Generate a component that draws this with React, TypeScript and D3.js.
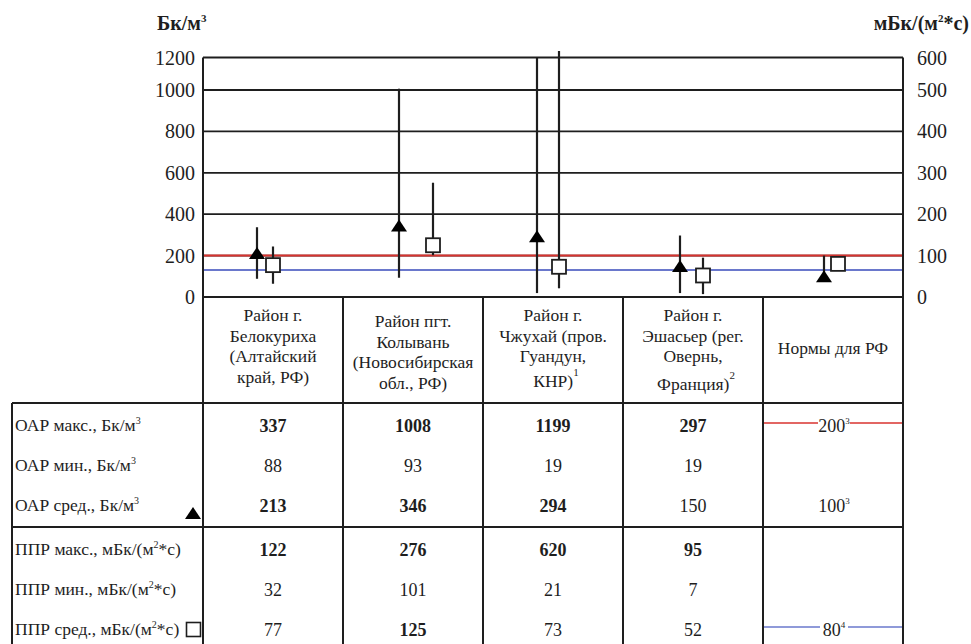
import React from "react";
import * as d3 from "d3";

const W = 971;
const H = 644;

// ---------- data ----------
const categoryKeys = ["Белокуриха", "Колывань", "Чжухай", "Эшасьер", "Нормы"];
const categoryHeaders = [
  ["Район г.", "Белокуриха", "(Алтайский", "край, РФ)"],
  ["Район пгт.", "Колывань", "(Новосибирская", "обл., РФ)"],
  ["Район г.", "Чжухай (пров.", "Гуандун,", "КНР)"],
  ["Район г.", "Эшасьер (рег.", "Овернь,", "Франция)"],
  ["Нормы для РФ"],
];
const headerFootnotes = ["", "", "1", "2", ""];

const oarMax: (number | null)[] = [337, 1008, 1199, 297, 200];
const oarMin: (number | null)[] = [88, 93, 19, 19, null];
const oarAvg: (number | null)[] = [213, 346, 294, 150, 100];
const pprMax: (number | null)[] = [122, 276, 620, 95, null];
const pprMin: (number | null)[] = [32, 101, 21, 7, null];
const pprAvg: (number | null)[] = [77, 125, 73, 52, 80];

const leftTicks = [0, 200, 400, 600, 800, 1000, 1200];
const rightTicks = [0, 100, 200, 300, 400, 500, 600];
const oarNorm = 200; // red line, left axis
const pprNormDrawn = 65; // blue line as drawn, right axis

const rowLabels = [
  [{ t: "ОАР макс., Бк/м" }, { t: "3", sup: true }],
  [{ t: "ОАР мин., Бк/м" }, { t: "3", sup: true }],
  [{ t: "ОАР сред., Бк/м" }, { t: "3", sup: true }],
  [{ t: "ППР макс., мБк/(м" }, { t: "2", sup: true }, { t: "*с)" }],
  [{ t: "ППР мин., мБк/(м" }, { t: "2", sup: true }, { t: "*с)" }],
  [{ t: "ППР сред., мБк/(м" }, { t: "2", sup: true }, { t: "*с)" }],
];
const rowValues = [oarMax, oarMin, oarAvg, pprMax, pprMin, pprAvg];
const rowBold = [
  [1, 1, 1, 1, 0],
  [0, 0, 0, 0, 0],
  [1, 1, 1, 0, 0],
  [1, 1, 1, 1, 0],
  [0, 0, 0, 0, 0],
  [0, 1, 0, 0, 0],
];
const normFootnotes = ["3", "", "3", "", "", "4"];

// ---------- layout ----------
const FONT = "'Liberation Serif', 'Times New Roman', serif";
const INK = "#1e1e1e";
const RED = "#d8332f";
const BLUE = "#6a78cc";
const plotLeft = 203;
const plotRight = 903;
const tableLeft = 12;
const headerBottom = 403;
const groupLine = 527;
const rowStep = 40;
const markerDx = [
  [-16, 0],
  [-14, 20],
  [-16, 6],
  [-13, 10],
  [-9, 5],
];
const headerTop = [315, 321, 315, 315, 348];
const headerLastExtra = [0, 0, 4, 7, 0];

type Part = { t: string; sup?: boolean };

function SupText({ x, y, parts, size, anchor = "start", weight = "normal", supScale = 0.55, shiftScale = 0.4 }: { x: number; y: number; parts: Part[]; size: number; anchor?: string; weight?: string; supScale?: number; shiftScale?: number }) {
  const supSize = Math.round(size * supScale);
  const shift = Math.round(size * shiftScale);
  let cur = 0;
  return (
    <text x={x} y={y} fontSize={size} textAnchor={anchor} fontWeight={weight} fontFamily={FONT} fill={INK}>
      {parts.map((p, i) => {
        let dy = 0;
        if (p.sup && cur === 0) { dy = -shift; cur = -shift; }
        else if (!p.sup && cur !== 0) { dy = shift; cur = 0; }
        return (
          <tspan key={i} dy={dy} fontSize={p.sup ? supSize : size} fontWeight={weight}>{p.t}</tspan>
        );
      })}
    </text>
  );
}

function tri(cx: number, cy: number, w = 16, h = 12) {
  return `M${cx - w / 2},${cy + h / 2}L${cx + w / 2},${cy + h / 2}L${cx},${cy - h / 2}Z`;
}

export default function App() {
  const yL = d3.scaleLinear().domain([0, 1000, 1200]).range([297, 90, 57.5]);
  const yR = d3.scaleLinear().domain([0, 500, 600]).range([297, 90, 57.5]);
  const x = d3.scaleBand().domain(categoryKeys).range([plotLeft, plotRight]).padding(0);
  const bw = x.bandwidth();
  const y0 = yL(0);
  const colBounds = categoryKeys.map((k) => x(k) as number).concat([plotRight]);
  const rowBase = (i: number) => (i < 3 ? headerBottom + 28 + i * rowStep : groupLine + 28 + (i - 3) * rowStep);

  return (
    <div style={{ position: "absolute", left: 0, top: 0 }}>
      <svg width={W} height={H} style={{ display: "block", background: "#fff" }} fontFamily={FONT}>
        <rect width={W} height={H} fill="#fff" />
        {/* axis titles */}
        <SupText x={157} y={30} size={20} weight="bold" parts={[{ t: "Бк/м" }, { t: "3", sup: true }]} />
        <SupText x={969} y={30} size={20} weight="bold" anchor="end" parts={[{ t: "мБк/(м" }, { t: "2", sup: true }, { t: "*с)" }]} />

        {/* grid */}
        {leftTicks.filter((t) => t > 0).map((t) => (
          <line key={t} x1={plotLeft} x2={plotRight} y1={yL(t)} y2={yL(t)} stroke={INK} strokeWidth={1.8} />
        ))}
        {leftTicks.map((t) => (
          <text key={"l" + t} x={195} y={yL(t)} dy="0.35em" textAnchor="end" fontSize={20} fontFamily={FONT} fill={INK}>{t}</text>
        ))}
        {rightTicks.map((t) => (
          <text key={"r" + t} x={917} y={yR(t)} dy="0.35em" textAnchor="start" fontSize={20} fontFamily={FONT} fill={INK}>{t}</text>
        ))}

        {/* norm lines */}
        <line x1={plotLeft} x2={plotRight} y1={yL(oarNorm)} y2={yL(oarNorm)} stroke={RED} strokeWidth={2} />
        <line x1={plotLeft} x2={plotRight} y1={yR(pprNormDrawn)} y2={yR(pprNormDrawn)} stroke={BLUE} strokeWidth={2} />

        {/* error lines + markers */}
        {categoryKeys.map((k, i) => {
          const cx = (x(k) as number) + bw / 2;
          const tx = cx + markerDx[i][0];
          const sx = cx + markerDx[i][1];
          const oa = oarAvg[i] as number;
          const pa = pprAvg[i] as number;
          const oTop = oarMax[i] ?? oa;
          const oBot = oarMin[i] ?? oa;
          const pTop = pprMax[i] ?? pa;
          const pBot = pprMin[i] ?? pa;
          return (
            <g key={k}>
              <line x1={tx} x2={tx} y1={yL(oTop)} y2={yL(oBot)} stroke={INK} strokeWidth={2.2} />
              <line x1={sx} x2={sx} y1={yR(pTop)} y2={yR(pBot)} stroke={INK} strokeWidth={2.2} />
              <path d={tri(tx, yL(oa))} fill="#000" />
              <rect x={sx - 7} y={yR(pa) - 7} width={14} height={14} fill="#fff" stroke={INK} strokeWidth={1.8} />
            </g>
          );
        })}

        {/* table lines */}
        <line x1={plotLeft} x2={plotRight} y1={y0} y2={y0} stroke={INK} strokeWidth={2} />
        <line x1={plotLeft} x2={plotLeft} y1={yL(1200)} y2={H} stroke={INK} strokeWidth={2} />
        <line x1={plotRight} x2={plotRight} y1={yL(1200)} y2={H} stroke={INK} strokeWidth={2} />
        {colBounds.slice(1, -1).map((b, i) => (
          <line key={"cb" + i} x1={b} x2={b} y1={y0} y2={H} stroke={INK} strokeWidth={2} />
        ))}
        <line x1={tableLeft} x2={tableLeft} y1={headerBottom} y2={H} stroke={INK} strokeWidth={2} />
        <line x1={tableLeft} x2={plotRight} y1={headerBottom} y2={headerBottom} stroke={INK} strokeWidth={2} />
        <line x1={tableLeft} x2={plotRight} y1={groupLine} y2={groupLine} stroke={INK} strokeWidth={2} />

        {/* header texts */}
        {categoryKeys.map((k, i) => {
          const cx = (x(k) as number) + bw / 2;
          const lines = categoryHeaders[i];
          const fn = headerFootnotes[i];
          return (
            <g key={"h" + k}>
              {lines.map((ln, j) => {
                const last = j === lines.length - 1;
                const yy = headerTop[i] + j * 20.5 + (last ? headerLastExtra[i] : 0) + 6;
                if (last && fn) {
                  const parts: Part[] = [{ t: ln }, { t: fn, sup: true }];
                  return <SupText key={j} x={cx + 3} y={yy} size={17.5} anchor="middle" parts={parts} supScale={0.6} shiftScale={0.62} />;
                }
                return (
                  <text key={j} x={cx} y={yy} textAnchor="middle" fontSize={17.5} fontFamily={FONT} fill={INK}>
                    {ln}
                  </text>
                );
              })}
            </g>
          );
        })}

        {/* row labels */}
        {rowLabels.map((parts, r) => (
          <SupText key={"rl" + r} x={15} y={rowBase(r)} size={17.5} parts={parts as Part[]} />
        ))}
        <path d={tri(193, rowBase(2) + 2, 16, 12)} fill="#000" />
        <rect x={186.5} y={rowBase(5) - 12.5} width={14} height={14} fill="#fff" stroke={INK} strokeWidth={1.6} />

        {/* values */}
        {rowValues.map((vals, r) =>
          categoryKeys.map((k, c) => {
            const v = vals[c];
            if (v == null) return null;
            const cx = (x(k) as number) + bw / 2;
            const yy = rowBase(r) + 1;
            if (c === 4) {
              const fnt = normFootnotes[r];
              const txt = String(v);
              const halfGap = txt.length * 2 + 10;
              const lineColor = r === 0 ? RED : r === 5 ? BLUE : null;
              const ly = rowBase(r) - 8;
              return (
                <g key={"v" + r + c}>
                  {lineColor ? (
                    <>
                      <line x1={colBounds[4] + 1} x2={cx + 1 - halfGap} y1={ly} y2={ly} stroke={lineColor} strokeWidth={1.6} />
                      <line x1={cx + 1 + halfGap} x2={plotRight - 1} y1={ly} y2={ly} stroke={lineColor} strokeWidth={1.6} />
                    </>
                  ) : null}
                  <SupText x={cx + 1} y={yy} size={18} anchor="middle" parts={[{ t: txt }, { t: fnt, sup: true }]} supScale={0.5} shiftScale={0.45} />
                </g>
              );
            }
            return (
              <text key={"v" + r + c} x={cx} y={yy} textAnchor="middle" fontSize={18} fontWeight={rowBold[r][c] ? "bold" : "normal"} fontFamily={FONT} fill={INK}>
                {v}
              </text>
            );
          })
        )}
      </svg>
    </div>
  );
}
